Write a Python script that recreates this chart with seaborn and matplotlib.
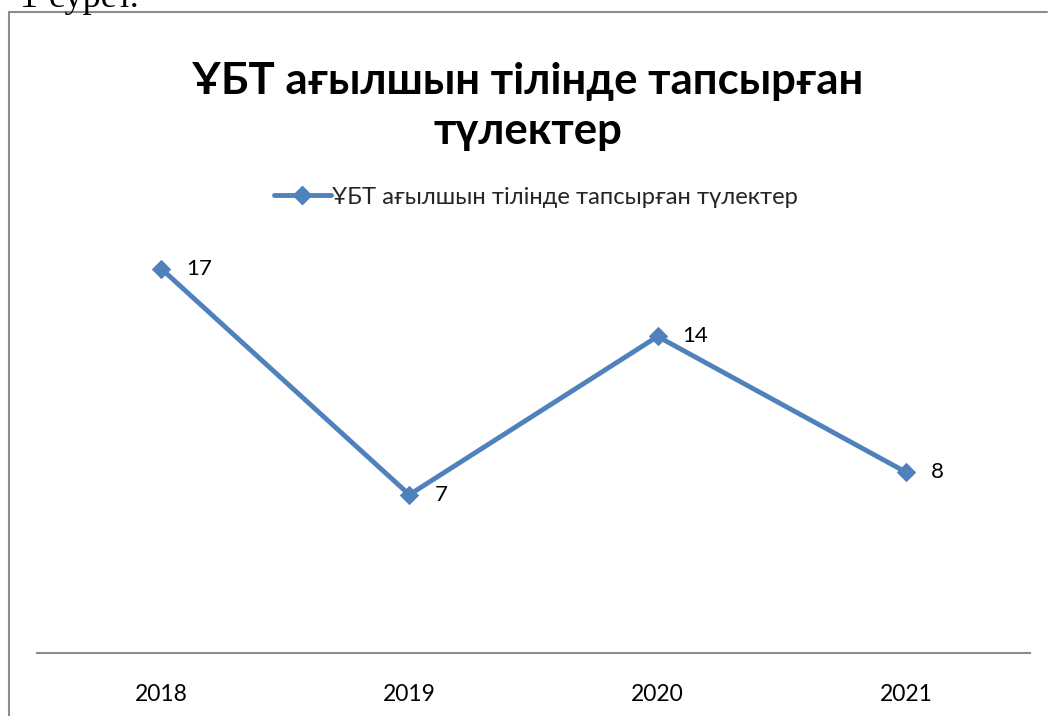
import matplotlib
matplotlib.use("Agg")
import matplotlib.pyplot as plt
from matplotlib.lines import Line2D
import seaborn as sns
import pandas as pd

years = ["2018", "2019", "2020", "2021"]
graduates = [17, 7, 14, 8]
series_name = "ҰБТ ағылшын тілінде тапсырған түлектер"
title_text = "ҰБТ ағылшын тілінде тапсырған\nтүлектер"
caption_text = "1-сурет."

sns.set_theme(style="white")
plt.rcParams["font.family"] = ["Lato", "DejaVu Sans"]

W, H = 1048, 716
fig = plt.figure(figsize=(W / 100, H / 100), dpi=100)
fig.patch.set_facecolor("white")

def fx(px):
    return px / W

def fy(py):
    return 1 - py / H

# plot area: categories centred in equal slots, value axis starting at zero
ax = fig.add_axes([fx(37), fy(653), fx(1030) - fx(37), fy(246) - fy(653)])
df = pd.DataFrame({"year": years, "value": graduates, "series": series_name})
df["pos"] = range(len(years))

blue = "#4F81BD"
sns.lineplot(data=df, x="pos", y="value", ax=ax, color=blue, linewidth=3.5,
             marker="D", markersize=9.5, markeredgecolor=blue, label=series_name,
             legend=False)

for x, y in zip(df["pos"], df["value"]):
    ax.annotate(str(y), (x, y), xytext=(18, 0), textcoords="offset points",
                ha="left", va="center", fontsize=16, color="black")

ax.set_xlim(-0.5, len(years) - 0.5)
ax.set_ylim(0, 18)
ax.set_xticks(range(len(years)))
ax.set_xticklabels(years, fontsize=16.5, color="black")
ax.tick_params(axis="x", length=0, pad=22)
ax.set_yticks([])
ax.set_xlabel("")
ax.set_ylabel("")
for side in ["top", "right", "left"]:
    ax.spines[side].set_visible(False)
ax.spines["bottom"].set_color("#8c8c8c")
ax.spines["bottom"].set_linewidth(1.5)
ax.set_facecolor("none")

# legend
handle = Line2D([], [], color=blue, linewidth=3.5, marker="D", markersize=9.5)
fig.legend([handle], [series_name], loc="center", bbox_to_anchor=(fx(536), fy(197)),
           frameon=False, fontsize=17.1, handlelength=2.4, handletextpad=0.05)

# title
fig.text(fx(528), fy(106), title_text, ha="center", va="center",
         fontsize=31.5, fontweight="bold", color="black", linespacing=1.3)

# chart frame (top and left edges)
frame_kw = dict(color="#8c8c8c", linewidth=1.5, transform=fig.transFigure)
fig.add_artist(Line2D([fx(9), fx(1047)], [fy(12), fy(12)], **frame_kw))
fig.add_artist(Line2D([fx(9), fx(9)], [fy(12), fy(716)], **frame_kw))

# caption above the frame
fig.text(fx(20), fy(7), caption_text, ha="left", va="baseline",
         fontsize=26, family="Liberation Serif", color="black")

fig.savefig("out.png", dpi=100)
